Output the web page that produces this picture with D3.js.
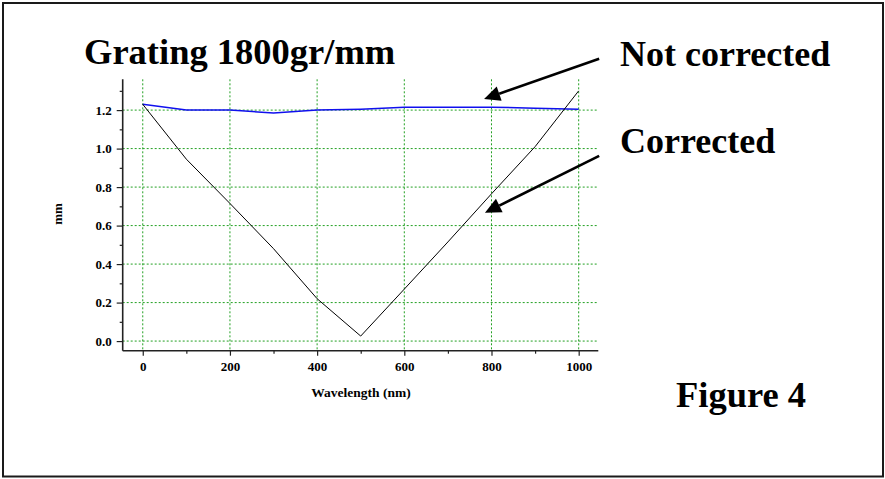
<!DOCTYPE html>
<html>
<head>
<meta charset="utf-8">
<script src="https://cdn.jsdelivr.net/npm/d3@7"></script>
<style>
  html, body { margin: 0; padding: 0; background: #fff; }
  svg { display: block; }
  text { font-family: "Liberation Serif", "Times New Roman", serif; font-weight: bold; }
</style>
</head>
<body>
<svg id="chart" width="885" height="479"></svg>
<script>
// ---- data ----
const wavelengths = [0, 100, 200, 300, 400, 500, 600, 700, 800, 900, 1000];
const notCorrected = [1.23, 1.20, 1.20, 1.185, 1.20, 1.205, 1.215, 1.215, 1.215, 1.21, 1.205];
const corrected    = [1.23, 0.945, 0.715, 0.48, 0.22, 0.026, 0.27, 0.515, 0.765, 1.01, 1.30];
const xTickValues = [0, 200, 400, 600, 800, 1000];
const xMinorTicks = [100, 300, 500, 700, 900];
const yTickValues = [0.0, 0.2, 0.4, 0.6, 0.8, 1.0, 1.2];
const yMinorTicks = [0.1, 0.3, 0.5, 0.7, 0.9, 1.1, 1.3];
const titleText = "Grating 1800gr/mm";
const xLabel = "Wavelength (nm)";
const yLabel = "mm";
// annotation arrows in data units: [from, to]
const arrowNotCorrected = {from: [1047, 1.467], to: [783, 1.258]};
const arrowCorrected    = {from: [1047, 0.962], to: [785, 0.667]};

const svg = d3.select("#chart");

// frame
svg.append("rect").attr("x", 3).attr("y", 3).attr("width", 880).attr("height", 473.5)
  .attr("fill", "#fff").attr("stroke", "#1a1a1a").attr("stroke-width", 2);

const x = d3.scaleLinear().domain([-46, 1045]).range([122.7, 598.3]);
const y = d3.scaleLinear().domain([-0.05, 1.36]).range([350.7, 79.3]);

const gridColor = "#22a022";
// grid
const grid = svg.append("g");
grid.selectAll("line.v").data(xTickValues).join("line")
  .attr("x1", d => x(d)).attr("x2", d => x(d))
  .attr("y1", y.range()[1]).attr("y2", y.range()[0])
  .attr("stroke", gridColor).attr("stroke-width", 1).attr("stroke-dasharray", "2,2");
grid.selectAll("line.h").data(yTickValues).join("line")
  .attr("x1", x.range()[0]).attr("x2", x.range()[1])
  .attr("y1", d => y(d)).attr("y2", d => y(d))
  .attr("stroke", gridColor).attr("stroke-width", 1).attr("stroke-dasharray", "2,2");

// axes
const x0 = x.range()[0], yb = y.range()[0];
const xAxis = svg.append("g").attr("transform", `translate(0,${yb})`)
  .call(d3.axisBottom(x).tickValues(xTickValues).tickFormat(d3.format("d")).tickSize(5).tickPadding(6));
const xMinor = svg.append("g").attr("transform", `translate(0,${yb})`)
  .call(d3.axisBottom(x).tickValues(xMinorTicks).tickFormat("").tickSize(3));
const yAxis = svg.append("g").attr("transform", `translate(${x0},0)`)
  .call(d3.axisLeft(y).tickValues(yTickValues).tickFormat(d3.format(".1f")).tickSize(6).tickPadding(5));
const yMinor = svg.append("g").attr("transform", `translate(${x0},0)`)
  .call(d3.axisLeft(y).tickValues(yMinorTicks).tickFormat("").tickSize(3));

[xAxis, xMinor, yAxis, yMinor].forEach(g => {
  g.select(".domain").attr("stroke", "#222").attr("stroke-width", 1.6);
  g.selectAll(".tick line").attr("stroke", "#222").attr("stroke-width", 1.2);
  g.selectAll(".tick text").attr("font-family", "Liberation Serif").attr("font-weight", "bold")
    .attr("font-size", 13).attr("fill", "#000");
});
// x axis domain path should not have end caps beyond the axis line
xAxis.select(".domain").attr("d", `M${x.range()[0]},0H${x.range()[1]}`);
xMinor.select(".domain").remove();
yAxis.select(".domain").attr("d", `M0,${y.range()[0]}V${y.range()[1]}`);
yMinor.select(".domain").remove();

// axis labels
svg.append("text").attr("x", 361).attr("y", 396.5).attr("text-anchor", "middle")
  .attr("font-size", 13.5).text(xLabel);
svg.append("text").attr("transform", "translate(62,214) rotate(-90)").attr("text-anchor", "middle")
  .attr("font-size", 13).text(yLabel);

// lines
const line = d3.line().x((d, i) => x(wavelengths[i])).y(d => y(d));
svg.append("path").datum(notCorrected).attr("d", line)
  .attr("fill", "none").attr("stroke", "#1010ee").attr("stroke-width", 1.5);
svg.append("path").datum(corrected).attr("d", line)
  .attr("fill", "none").attr("stroke", "#000").attr("stroke-width", 1);

// titles / annotations
svg.append("text").attr("x", 84).attr("y", 63.5).attr("font-size", 36.5).text(titleText);
svg.append("text").attr("x", 620).attr("y", 66).attr("font-size", 36).text("Not corrected");
svg.append("text").attr("x", 620).attr("y", 152.5).attr("font-size", 36).text("Corrected");
svg.append("text").attr("x", 676).attr("y", 406.5).attr("font-size", 36.5).text("Figure 4");

// arrows
function arrow(a) {
  const [fx, fy] = [x(a.from[0]), y(a.from[1])];
  const [tx, ty] = [x(a.to[0]), y(a.to[1])];
  const dx = fx - tx, dy = fy - ty, len = Math.hypot(dx, dy);
  const ux = dx / len, uy = dy / len;
  const L = 16, W = 7.5;
  const bx = tx + ux * L, by = ty + uy * L;
  svg.append("line").attr("x1", fx).attr("y1", fy).attr("x2", bx).attr("y2", by)
    .attr("stroke", "#000").attr("stroke-width", 2.6);
  svg.append("path")
    .attr("d", `M${tx},${ty}L${bx - uy * W},${by + ux * W}L${bx + uy * W},${by - ux * W}Z`)
    .attr("fill", "#000");
}
arrow(arrowNotCorrected);
arrow(arrowCorrected);
</script>
</body>
</html>
